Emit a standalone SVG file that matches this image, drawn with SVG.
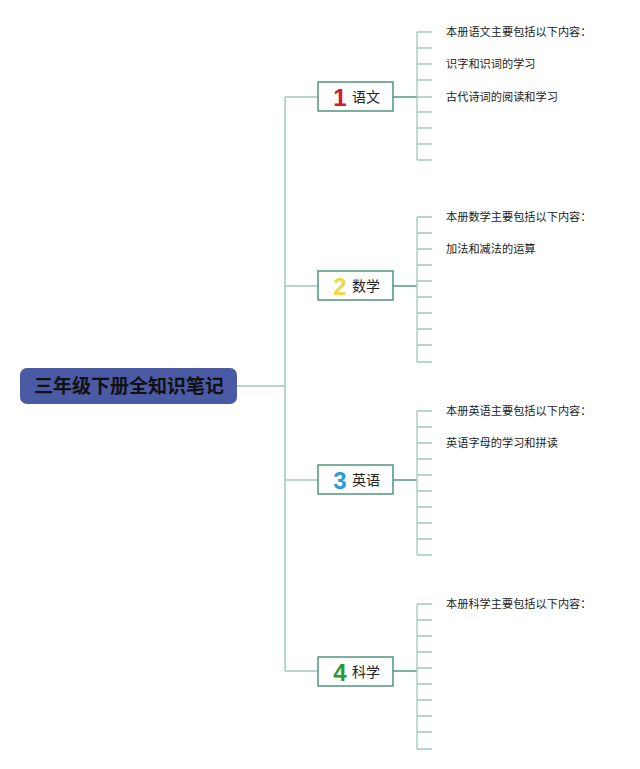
<svg xmlns="http://www.w3.org/2000/svg" width="640" height="769" viewBox="0 0 640 769">
<style>
.trunk{stroke:#9ccbb9;stroke-width:1.5;fill:none}
.br{stroke:#4f9a80;stroke-width:1.5;fill:none}
.sub{stroke:#9ccbb9;stroke-width:1.3;fill:none}
.box{fill:#fff;stroke:#5a9c84;stroke-width:1.6}
.num{font-family:"Liberation Sans",Arial,sans-serif;font-weight:bold;font-size:24px}
.lab{font-family:"Noto Sans CJK SC","Noto Sans",sans-serif;font-size:14px;fill:#222}
.leaf{font-family:"Noto Sans CJK SC","Noto Sans",sans-serif;font-size:11.2px;fill:#222}
</style>
<rect width="640" height="769" fill="#fff"/>
<g id="connectors">
<path class="trunk" d="M237 386H285M285 97V671M285 97H318M285 286H318M285 480H318M285 671H318"/>
<path class="br" d="M393 97H417M393 286H417M393 480H417M393 671H417"/>
<path class="sub" d="M417 32V160M417 32H432M417 48H432M417 64H432M417 80H432M417 97H432M417 112H432M417 128H432M417 144H432M417 160H432"/>
<path class="sub" d="M417 217V362M417 217H432M417 233H432M417 249H432M417 265H432M417 281H432M417 297H432M417 313H432M417 329H432M417 345H432M417 362H432"/>
<path class="sub" d="M417 411V555M417 411H432M417 427H432M417 443H432M417 459H432M417 475H432M417 491H432M417 507H432M417 523H432M417 539H432M417 555H432"/>
<path class="sub" d="M417 604V749M417 604H432M417 620H432M417 636H432M417 652H432M417 668H432M417 684H432M417 700H432M417 716H432M417 732H432M417 749H432"/>
</g>
<g id="root">
<rect x="20" y="368" width="217" height="36" rx="7" fill="#4b5aa5"/>
<text x="129" y="393" text-anchor="middle" font-family="Noto Sans CJK SC,sans-serif" font-weight="bold" font-size="19" fill="#111">三年级下册全知识笔记</text>
</g>
<g id="n1">
<rect class="box" x="318" y="82" width="75" height="29"/>
<text class="num" x="340" y="105.5" text-anchor="middle" fill="#d3192c">1</text>
<text class="lab" x="352" y="102">语文</text>
</g>
<g id="n2">
<rect class="box" x="318" y="271" width="75" height="29"/>
<text class="num" x="340" y="294.5" text-anchor="middle" fill="#f0d648">2</text>
<text class="lab" x="352" y="291">数学</text>
</g>
<g id="n3">
<rect class="box" x="318" y="465" width="75" height="29"/>
<text class="num" x="340" y="488.5" text-anchor="middle" fill="#2a9ad8">3</text>
<text class="lab" x="352" y="485">英语</text>
</g>
<g id="n4">
<rect class="box" x="318" y="657" width="75" height="29"/>
<text class="num" x="340" y="680.5" text-anchor="middle" fill="#2a9a35">4</text>
<text class="lab" x="352" y="677">科学</text>
</g>
<g id="leaves">
<text class="leaf" x="446" y="36">本册语文主要包括以下内容：</text>
<text class="leaf" x="446" y="68">识字和识词的学习</text>
<text class="leaf" x="446" y="101">古代诗词的阅读和学习</text>
<text class="leaf" x="446" y="221">本册数学主要包括以下内容：</text>
<text class="leaf" x="446" y="253">加法和减法的运算</text>
<text class="leaf" x="446" y="415">本册英语主要包括以下内容：</text>
<text class="leaf" x="446" y="447">英语字母的学习和拼读</text>
<text class="leaf" x="446" y="608">本册科学主要包括以下内容：</text>
</g>
</svg>
